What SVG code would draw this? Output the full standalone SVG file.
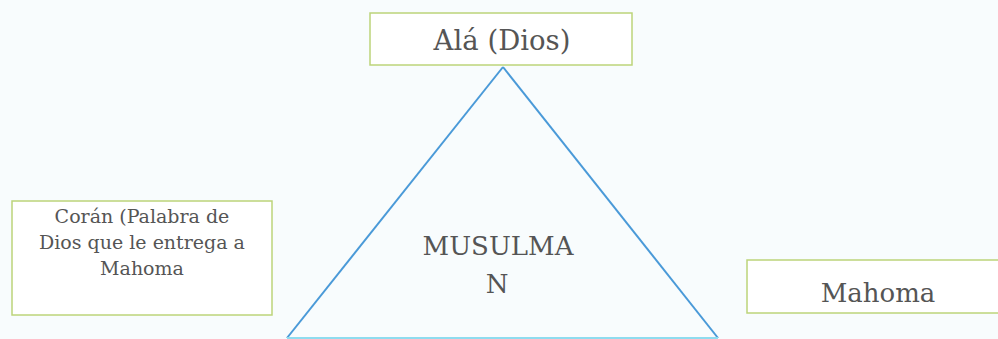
<svg xmlns="http://www.w3.org/2000/svg" width="998" height="339" viewBox="0 0 998 339">
<style>
.box{fill:#ffffff;stroke:#bcd47a;stroke-width:1.5}
.t{font-family:'DejaVu Serif',serif;fill:#555555;text-anchor:middle}
</style>
<rect width="998" height="339" fill="#f8fcfd"/>
<g id="connectors">
<path d="M503 67 L287 338" fill="none" stroke="#4a9ad8" stroke-width="2"/>
<path d="M503 67 L718 338" fill="none" stroke="#4a9ad8" stroke-width="2"/>
<path d="M287 338 L718 338" fill="none" stroke="#8fdcef" stroke-width="2"/>
</g>
<g id="triangle-label">
<text class="t" x="498" y="255" font-size="26">MUSULMA</text>
<text class="t" x="497" y="293" font-size="26">N</text>
</g>
<g id="ala">
<rect class="box" x="370" y="13" width="262" height="52"/>
<text class="t" x="502" y="50" font-size="27.5">Alá (Dios)</text>
</g>
<g id="coran">
<rect class="box" x="12" y="201" width="260" height="114"/>
<text class="t" x="142" y="223" font-size="19">Corán (Palabra de</text>
<text class="t" x="142" y="249" font-size="19">Dios que le entrega a</text>
<text class="t" x="142" y="275" font-size="19">Mahoma</text>
</g>
<g id="mahoma">
<rect class="box" x="747" y="260" width="260" height="53"/>
<text class="t" x="878" y="302" font-size="26">Mahoma</text>
</g>
</svg>
